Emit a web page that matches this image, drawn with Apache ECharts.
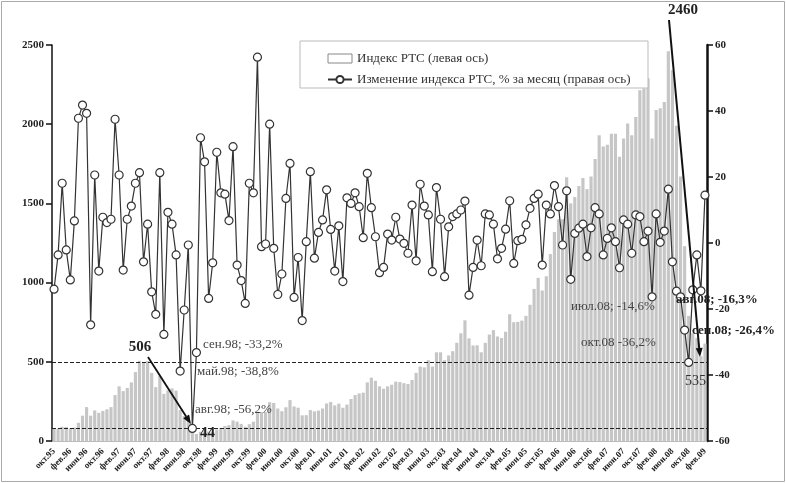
<!DOCTYPE html>
<html><head><meta charset="utf-8">
<script src="https://cdn.jsdelivr.net/npm/echarts@6/dist/echarts.min.js"></script>
<style>html,body{margin:0;padding:0;background:#fff}#c{width:786px;height:483px}</style>
</head><body><div id="c"></div>
<script>
// Month abbreviations for category labels (series starts Oct 1995)
const monthNames = ['янв','фев','мар','апр','май','июн','июл','авг','сен','окт','ноя','дек'];
const startYear = 1995;
const startMonth = 9; // окт

// RTS index, monthly (left axis)
const rtsIndex = [
  82, 78, 90, 88, 80, 85, 115, 160, 214, 160,
  193, 178, 190, 200, 214, 290, 345, 315, 335, 370,
  435, 506, 495, 505, 430, 340, 410, 298, 320, 332,
  318, 195, 158, 155, 68, 44, 58, 72, 60, 57,
  72, 83, 95, 100, 130, 122, 108, 90, 106, 122,
  185, 183, 182, 245, 240, 205, 188, 213, 258, 218,
  210, 162, 163, 195, 187, 192, 205, 237, 246, 225,
  236, 210, 230, 265, 290, 300, 305, 370, 400, 380,
  345, 330, 345, 355, 375, 372, 365, 360, 385, 430,
  470, 465, 510, 470, 560, 560, 510, 540, 567, 620,
  680, 762, 648, 603, 604, 560, 620, 672, 700, 660,
  650, 690, 800, 750, 752, 760, 790, 860, 960, 1030,
  950, 1040, 1180, 1320, 1400, 1400, 1665, 1500, 1540, 1610,
  1660, 1590, 1670, 1780, 1930, 1860, 1870, 1940, 1940, 1795,
  1910, 2005, 1930, 2046, 2215, 2226, 2290, 1910, 2090, 2100,
  2140, 2460, 2340, 1990, 1670, 1230, 790, 680, 650, 535, 615
];

// Monthly change of RTS, % (right axis)
const monthlyChange = [
  -14.0, -3.6, 18.1, -2.1, -11.2, 6.7, 37.8, 41.8, 39.3, -24.8,
  20.6, -8.5, 7.8, 6.2, 7.2, 37.5, 20.6, -8.2, 7.2, 11.2,
  18.1, 21.3, -5.7, 5.7, -14.8, -21.6, 21.3, -27.7, 9.3, 5.7,
  -3.6, -38.8, -20.3, -0.6, -56.2, -33.2, 31.9, 24.6, -16.8, -6.0,
  27.5, 15.2, 14.8, 6.8, 29.2, -6.7, -11.4, -18.3, 18.1, 15.2,
  56.3, -1.1, -0.3, 36.0, -1.6, -15.6, -9.4, 13.5, 24.1, -16.5,
  -4.4, -23.5, 0.4, 21.6, -4.6, 3.2, 7.0, 16.1, 4.1, -8.5,
  5.2, -11.7, 13.7, 12.0, 15.2, 11.0, 1.6, 21.1, 10.7, 1.9,
  -9.0, -7.4, 2.7, 0.9, 7.8, 1.2, -0.1, -3.1, 11.5, -5.4,
  17.8, 11.2, 8.5, -8.7, 16.8, 7.2, -10.2, 4.9, 8.0, 8.8,
  10.0, 12.7, -15.8, -7.4, 0.9, -6.9, 8.8, 8.5, 5.7, -4.8,
  -1.6, 4.2, 12.8, -6.2, 0.7, 1.1, 5.5, 10.5, 13.5, 14.8,
  -6.7, 11.5, 8.8, 17.4, 11.0, -0.6, 15.8, -11.0, 2.9, 4.5,
  5.7, -4.1, 4.6, 10.7, 8.8, -3.6, 1.4, 4.6, 0.4, -7.5,
  7.0, 5.7, -3.1, 8.5, 8.0, 0.4, 3.6, -16.3, 8.8, 0.2,
  3.6, 16.3, -5.7, -14.6, -16.3, -26.4, -36.2, -14.2, -3.6, -14.5, 14.5
];

// Reference levels (right axis, %)
const refLevels = [-36.2, -56.2];

// Axis ranges
const leftAxisRange = [0, 2500, 500];
const rightAxisRange = [-60, 60, 20];

const seriesNames = ['Индекс РТС (левая ось)', 'Изменение индекса РТС, % за месяц (правая ось)'];

const categories = rtsIndex.map((_, i) => {
  const k = startMonth + i;
  const m = k % 12;
  const y = (startYear + Math.floor(k / 12)) % 100;
  return monthNames[m] + '.' + String(y).padStart(2, '0');
});

const serif = '"Liberation Serif", "DejaVu Serif", serif';

function arrow(x1, y1, x2, y2, w) {
  const ang = Math.atan2(y2 - y1, x2 - x1);
  const L = 9, W = 3.5;
  const bx = x2 - L * Math.cos(ang), by = y2 - L * Math.sin(ang);
  const px = -Math.sin(ang) * W, py = Math.cos(ang) * W;
  return [
    { type: 'line', shape: { x1: x1, y1: y1, x2: bx, y2: by }, style: { stroke: '#111', lineWidth: w }, z: 20 },
    { type: 'polygon', shape: { points: [[x2, y2], [bx + px, by + py], [bx - px, by - py]] }, style: { fill: '#111' }, z: 20 }
  ];
}
function txt(x, y, s, size, bold, color, align) {
  return { type: 'text', x: x, y: y, z: 21,
    style: { text: s, font: (bold ? 'bold ' : '') + size + 'px ' + serif, fill: color || '#333',
      textAlign: align || 'left', textVerticalAlign: 'middle' } };
}

const chart = echarts.init(document.getElementById('c'));
chart.setOption({
  animation: false,
  backgroundColor: '#fff',
  grid: { left: 52, right: 79, top: 45, bottom: 42 },
  legend: {
    z: 50, zlevel: 1,
    orient: 'vertical', left: 322, top: 47, itemGap: 8, itemWidth: 24, itemHeight: 9,
    textStyle: { fontFamily: serif, fontSize: 13, color: '#333' },
    data: [
      { name: seriesNames[0], icon: 'rect', itemStyle: { color: '#fff', borderColor: '#888', borderWidth: 1 } },
      { name: seriesNames[1] }
    ]
  },
  xAxis: {
    type: 'category', data: categories, boundaryGap: true,
    axisLine: { show: true, lineStyle: { color: '#bbb' } },
    axisTick: { show: false },
    axisLabel: { interval: 3, rotate: 45, fontSize: 9, fontWeight: 'bold', fontFamily: serif, color: '#222', margin: 9 }
  },
  yAxis: [
    { type: 'value', min: leftAxisRange[0], max: leftAxisRange[1], interval: leftAxisRange[2], position: 'left',
      axisLine: { show: true, lineStyle: { color: '#111', width: 1.5 } },
      axisTick: { show: true, length: 6, lineStyle: { color: '#111', width: 1.5 } },
      splitLine: { show: false },
      axisLabel: { formatter: v => String(v), fontSize: 11, fontWeight: 'bold', fontFamily: serif, color: '#222', margin: 8 } },
    { type: 'value', min: rightAxisRange[0], max: rightAxisRange[1], interval: rightAxisRange[2], position: 'right',
      axisLine: { show: true, lineStyle: { color: '#111', width: 2.5 } },
      axisTick: { show: true, length: 6, lineStyle: { color: '#111', width: 1.5 } },
      splitLine: { show: false },
      axisLabel: { formatter: v => String(v), fontSize: 11, fontWeight: 'bold', fontFamily: serif, color: '#222', margin: 8 } }
  ],
  series: [
    { name: seriesNames[0], type: 'bar', yAxisIndex: 0, data: rtsIndex, barCategoryGap: '22%',
      itemStyle: { color: '#c6c6c6' }, z: 1 },
    { name: seriesNames[1], type: 'line', yAxisIndex: 1, data: monthlyChange, z: 5,
      symbol: 'circle', symbolSize: 8, showAllSymbol: true,
      lineStyle: { color: '#333', width: 1.2 },
      itemStyle: { color: '#fff', borderColor: '#333', borderWidth: 1.2 },
      markLine: { silent: true, symbol: 'none', label: { show: false },
        lineStyle: { type: 'dashed', color: '#222', width: 1 },
        data: refLevels.map(v => ({ yAxis: v })) } }
  ],
  graphic: [
    { type: 'rect', shape: { x: 1.5, y: 1.5, width: 783, height: 480 }, style: { fill: 'none', stroke: '#aaa', lineWidth: 1 }, z: 0 },
    { type: 'rect', shape: { x: 300, y: 41, width: 348, height: 47 }, style: { fill: '#fff', stroke: '#bbb', lineWidth: 1 }, z: 10 },
    txt(140, 347, '506', 15, true, '#222', 'center'),
    ...arrow(148, 357, 191, 424, 1.8),
    txt(200, 433, '44', 15, true, '#222'),
    txt(203, 345, 'сен.98; -33,2%', 13, false, '#444'),
    txt(197, 372, 'май.98; -38,8%', 13, false, '#444'),
    txt(195, 410, 'авг.98; -56,2%', 13, false, '#444'),
    txt(683, 10, '2460', 15, true, '#222', 'center'),
    ...arrow(669, 20, 700, 357, 2),
    txt(571, 307, 'июл.08; -14,6%', 13, false, '#444'),
    txt(581, 343, 'окт.08 -36,2%', 13, false, '#444'),
    txt(676, 300, 'авг.08; -16,3%', 13, true, '#222'),
    txt(692, 331, 'сен.08; -26,4%', 13, true, '#222'),
    txt(685, 381, '535', 14, false, '#333')
  ]
});
</script></body></html>
